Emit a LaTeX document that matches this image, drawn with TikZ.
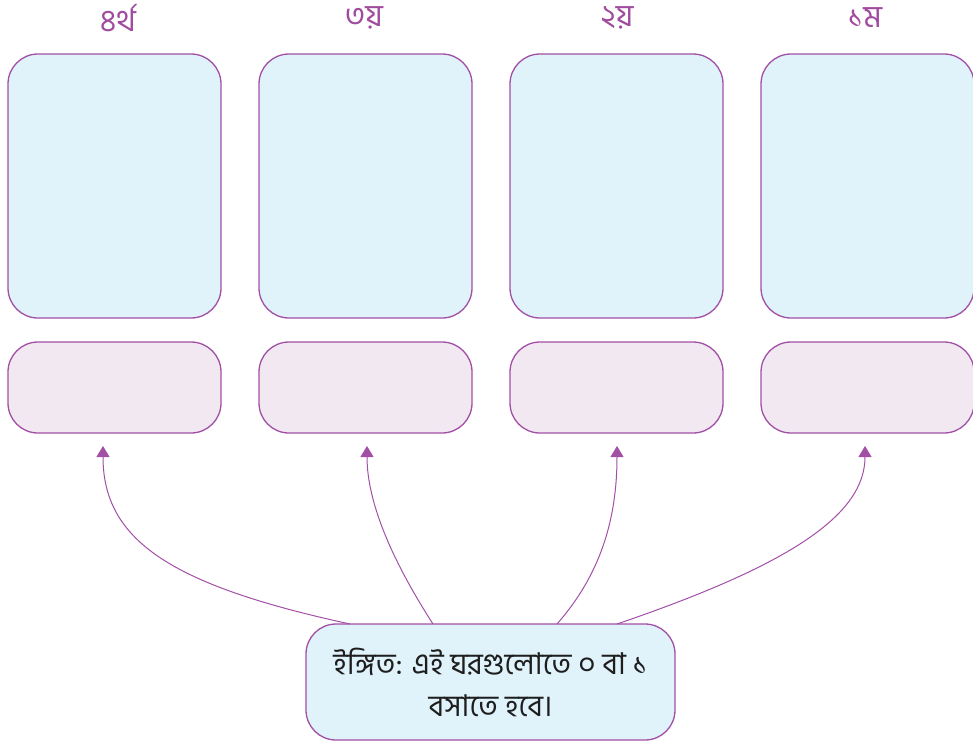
\documentclass[tikz,border=0pt]{standalone}
\usepackage{fontspec}
\newfontfamily\bn[Script=Bengali]{Hind Siliguri}
\usetikzlibrary{arrows.meta}
\definecolor{edgepurple}{HTML}{A24FA6}
\definecolor{bigfill}{HTML}{E0F2FA}
\definecolor{smallfill}{HTML}{F1E8F2}
\definecolor{labelpurple}{HTML}{A04C9E}
\definecolor{hinttext}{HTML}{1E1E1E}
\begin{document}
\begin{tikzpicture}[x=1pt,y=-1pt,
  bigbox/.style={draw=edgepurple,line width=1.3pt,fill=bigfill,rounded corners=30pt,minimum width=213pt,minimum height=264pt,inner sep=0pt},
  smallbox/.style={draw=edgepurple,line width=1.3pt,fill=smallfill,rounded corners=30pt,minimum width=213pt,minimum height=91pt,inner sep=0pt},
  collabel/.style={text=labelpurple,font=\bn\fontsize{31}{36}\selectfont,inner sep=0pt},
  hintbox/.style={draw=edgepurple,line width=1.3pt,fill=bigfill,rounded corners=30pt,minimum width=369pt,minimum height=116pt,align=center,text=hinttext,font=\bn\fontsize{30}{42}\selectfont},
  link/.style={draw=edgepurple,line width=1pt,-{Triangle[width=13pt,length=11pt]}}]
\useasboundingbox (0,0) rectangle (973,744);
% big boxes
\node[bigbox] (b4) at (114.5,186) {};
\node[bigbox] (b3) at (365.5,186) {};
\node[bigbox] (b2) at (616.5,186) {};
\node[bigbox] (b1) at (867.5,186) {};
% small boxes
\node[smallbox] (s4) at (114.5,387.5) {};
\node[smallbox] (s3) at (365.5,387.5) {};
\node[smallbox] (s2) at (616.5,387.5) {};
\node[smallbox] (s1) at (867.5,387.5) {};
% labels
\node[collabel] (l4) at (118,18) {৪র্থ};
\node[collabel] (l3) at (364,18) {৩য়};
\node[collabel] (l2) at (617,18) {২য়};
\node[collabel] (l1) at (865,18) {১ম};
% hint
\node[hintbox] (hint) at (490.5,682) {ইঙ্গিত: এই ঘরগুলোতে ০ বা ১\\বসাতে হবে।};
% arrow tips
\coordinate (t4) at (103,446);
\coordinate (t3) at (367,446);
\coordinate (t2) at (617,446);
\coordinate (t1) at (865,446);
\coordinate (h4) at (350,624);
\coordinate (h3) at (433,624);
\coordinate (h2) at (557,624);
\coordinate (h1) at (617,624);
\draw[link] (h4) .. controls (170,585) and (103,540) .. (t4);
\draw[link] (h3) .. controls (395,565) and (367,505) .. (t3);
\draw[link] (h2) .. controls (600,575) and (617,520) .. (t2);
\draw[link] (h1) .. controls (790,565) and (865,515) .. (t1);
\end{tikzpicture}
\end{document}
